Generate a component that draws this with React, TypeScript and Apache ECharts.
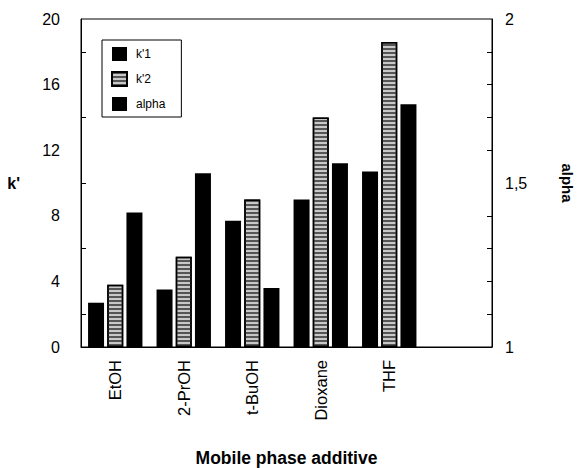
import React, { useEffect, useRef } from "react";
import * as echarts from "echarts";

const categories = ["EtOH", "2-PrOH", "t-BuOH", "Dioxane", "THF", ""];
const k1Values = [2.7, 3.5, 7.7, 9.0, 10.7, null];
const k2Values = [3.8, 5.5, 9.0, 14.0, 18.6, null];
const alphaValues = [1.41, 1.53, 1.18, 1.56, 1.74, null];
const leftTicks = { min: 0, max: 20, interval: 4 };
const rightTicks = { min: 1, max: 2, interval: 0.5 };

const FONT = '"Liberation Sans", Arial, Helvetica, sans-serif';

export default function App() {
  const ref = useRef<HTMLDivElement>(null);
  useEffect(() => {
    if (!ref.current) return;
    const chart = echarts.init(ref.current, null, { renderer: "svg" });
    chart.setOption({
      animation: false,
      backgroundColor: "#fff",
      textStyle: { fontFamily: FONT, color: "#000" },
      grid: {
        left: 81,
        right: 90,
        top: 19,
        bottom: 121,
        containLabel: false,
        outerBoundsMode: "none",
        show: true,
        borderColor: "#000",
        borderWidth: 1,
      },
      legend: {
        orient: "vertical",
        left: 102,
        top: 40,
        icon: "rect",
        itemWidth: 15,
        itemHeight: 14,
        itemGap: 10,
        padding: [7, 16, 6, 9],
        borderColor: "#000",
        borderWidth: 1,
        backgroundColor: "#fff",
        textStyle: { fontFamily: FONT, fontSize: 12, color: "#000", padding: [0, 0, 0, 4] },
        data: ["k'1", "k'2", "alpha"],
      },
      xAxis: {
        type: "category",
        data: categories,
        axisLine: { lineStyle: { color: "#000", width: 1 } },
        axisTick: { inside: true, length: 6, lineStyle: { color: "#000" } },
        axisLabel: {
          rotate: 90,
          fontSize: 16.5,
          color: "#000",
          fontFamily: FONT,
          margin: 13,
        },
        name: "Mobile phase additive",
        nameLocation: "middle",
        nameGap: 102,
        nameTextStyle: { fontSize: 17.5, fontWeight: "bold", color: "#000", fontFamily: FONT },
      },
      yAxis: [
        {
          type: "value",
          min: leftTicks.min,
          max: leftTicks.max,
          interval: leftTicks.interval,
          position: "left",
          axisLine: { show: true, lineStyle: { color: "#000" } },
          axisTick: { inside: true, length: 5, lineStyle: { color: "#000" } },
          minorTick: { show: true, splitNumber: 2, length: 5, lineStyle: { color: "#000" } },
          splitLine: { show: false },
          axisLabel: { fontSize: 16, color: "#000", fontFamily: FONT, margin: 21 },
          name: "k'",
          nameLocation: "middle",
          nameRotate: 0,
          nameGap: 61,
          nameTextStyle: { fontSize: 16, fontWeight: "bold", color: "#000", fontFamily: FONT },
        },
        {
          type: "value",
          min: rightTicks.min,
          max: rightTicks.max,
          interval: rightTicks.interval,
          position: "right",
          axisLine: { show: true, lineStyle: { color: "#000" } },
          axisTick: { inside: true, length: 5, lineStyle: { color: "#000" } },
          minorTick: { show: true, splitNumber: 5, length: 5, lineStyle: { color: "#000" } },
          splitLine: { show: false },
          axisLabel: {
            fontSize: 16,
            color: "#000",
            fontFamily: FONT,
            margin: 13,
            formatter: (v: number) => String(v).replace(".", ","),
          },
          name: "alpha",
          nameLocation: "middle",
          nameRotate: -90,
          nameGap: 68,
          nameTextStyle: { fontSize: 15, fontWeight: "bold", color: "#000", fontFamily: FONT },
        },
      ],
      series: [
        {
          name: "k'1",
          type: "bar",
          data: k1Values,
          barWidth: 16,
          barGap: "20%",
          itemStyle: { color: "#000" },
        },
        {
          name: "k'2",
          type: "bar",
          data: k2Values,
          barWidth: 16,
          barGap: "20%",
          itemStyle: {
            color: "#c8c8c8",
            borderColor: "#000",
            borderWidth: 1.5,
            decal: {
              symbol: "rect",
              symbolSize: 1,
              dashArrayX: [1, 0],
              dashArrayY: [2, 2],
              rotation: 0,
              color: "#555",
            },
          },
        },
        {
          name: "alpha",
          type: "bar",
          yAxisIndex: 1,
          data: alphaValues,
          barWidth: 16,
          barGap: "20%",
          itemStyle: { color: "#000" },
        },
      ],
    });
    return () => chart.dispose();
  }, []);
  return <div ref={ref} style={{ width: 582, height: 468, marginLeft: -8, marginTop: -8 }} />;
}
